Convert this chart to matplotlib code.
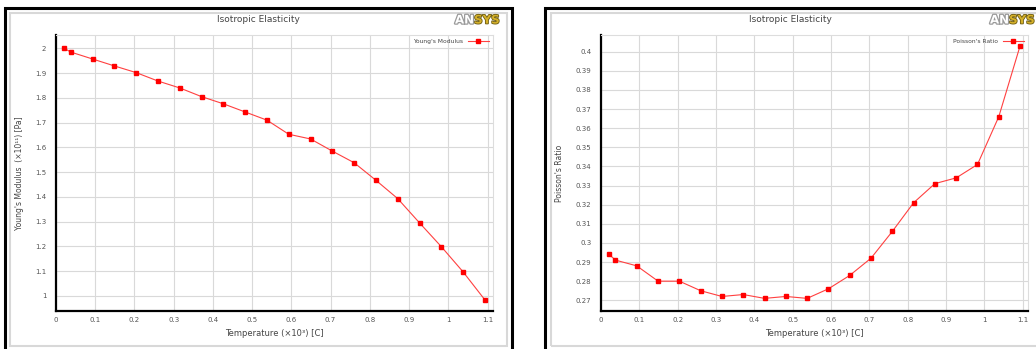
import matplotlib
matplotlib.use("Agg")
import matplotlib.pyplot as plt
import matplotlib.patheffects as pe
from matplotlib.patches import Rectangle

# Datos (temperatura en x10^3 C)
temperatura = [0.0211, 0.0378, 0.0933, 0.1489, 0.2044, 0.2600, 0.3156, 0.3711,
               0.4267, 0.4822, 0.5378, 0.5933, 0.6489, 0.7044, 0.7600, 0.8156,
               0.8711, 0.9267, 0.9822, 1.0378, 1.0933]
young = [2.000, 1.985, 1.957, 1.929, 1.902, 1.868, 1.840, 1.805, 1.776, 1.743,
         1.710, 1.653, 1.634, 1.585, 1.538, 1.467, 1.393, 1.295, 1.199, 1.097, 0.984]
poisson = [0.294, 0.291, 0.288, 0.280, 0.280, 0.275, 0.272, 0.273, 0.271, 0.272,
           0.271, 0.276, 0.283, 0.292, 0.306, 0.321, 0.331, 0.334, 0.341, 0.366, 0.403]

xticks = [0, 0.1, 0.2, 0.3, 0.4, 0.5, 0.6, 0.7, 0.8, 0.9, 1, 1.1]
yticks_young = [1, 1.1, 1.2, 1.3, 1.4, 1.5, 1.6, 1.7, 1.8, 1.9, 2]
yticks_poisson = [0.27, 0.28, 0.29, 0.3, 0.31, 0.32, 0.33, 0.34, 0.35, 0.36,
                  0.37, 0.38, 0.39, 0.4]

W, H = 1036, 349
fig = plt.figure(figsize=(W / 100, H / 100), dpi=100)
fig.patch.set_facecolor('white')


def px(x, y):
    return x / W, 1 - y / H


def marco(x0, x1, gx0, gx1):
    # marco negro exterior y marco gris interior
    a = px(x0, 400)
    b = px(x1, 8)
    fig.patches.append(Rectangle(a, b[0] - a[0], b[1] - a[1], transform=fig.transFigure,
                                 fill=False, edgecolor='black', linewidth=2.2, zorder=0))
    a = px(gx0, 346)
    b = px(gx1, 13)
    fig.patches.append(Rectangle(a, b[0] - a[0], b[1] - a[1], transform=fig.transFigure,
                                 fill=False, edgecolor='#d8d8d8', linewidth=1.5, zorder=0))


def logo(x, y):
    t = fig.text(*px(x, y), "AN", fontsize=8.5, fontweight='bold',
                 color='white', va='center', ha='left', family='DejaVu Sans')
    t.set_path_effects([pe.withStroke(linewidth=1.8, foreground='#9a9a9a')])
    fig.canvas.draw()
    bb = t.get_window_extent()
    t2 = fig.text(bb.x1 / W, 1 - y / H, "SYS", fontsize=8.5, fontweight='bold',
                  color='#d4b02a', va='center', ha='left', family='DejaVu Sans')
    t2.set_path_effects([pe.withStroke(linewidth=1.2, foreground='#6b5a10')])


def panel(x0, x1, y, yticks, ylim, ylabel, label):
    a = px(x0, 311)
    b = px(x1, 35)
    ax = fig.add_axes([a[0], a[1], b[0] - a[0], b[1] - a[1]])
    ax.plot(temperatura, y, color='#ff4040', linewidth=0.8, marker='s', markersize=2.2,
            markerfacecolor='red', markeredgecolor='red', label=label)
    ax.set_xlim(0, 1.114)
    ax.set_ylim(*ylim)
    ax.set_xticks(xticks)
    ax.set_xticklabels([f"{v:g}" for v in xticks])
    ax.set_yticks(yticks)
    ax.set_yticklabels([f"{v:g}" for v in yticks])
    ax.tick_params(length=0, labelsize=5, labelcolor='#555555')
    ax.tick_params(axis='y', pad=7)
    ax.tick_params(axis='x', pad=4)
    ax.grid(True, color='#d9d9d9', linewidth=0.8)
    ax.set_axisbelow(True)
    for s in ['left', 'bottom']:
        ax.spines[s].set_linewidth(1.6)
        ax.spines[s].set_color('black')
    for s in ['top', 'right']:
        ax.spines[s].set_linewidth(0.8)
        ax.spines[s].set_color('#dddddd')
    ax.set_xlabel("Temperature (×10³) [C]", fontsize=6, color='#444444', labelpad=5)
    ax.set_ylabel(ylabel, fontsize=5.5, color='#444444', labelpad=8)
    ax.legend(loc='upper right', frameon=False, fontsize=4.3, markerfirst=False,
              handlelength=3.5, borderaxespad=0.3, labelcolor='#444444')
    return ax


marco(5, 512, 10, 507)
marco(545, 1100, 551, 1100)

fig.text(*px(258, 20), "Isotropic Elasticity", fontsize=6.5, color='#444444',
         ha='center', va='center')
fig.text(*px(790, 20), "Isotropic Elasticity", fontsize=6.5, color='#444444',
         ha='center', va='center')
logo(455, 20)
logo(990, 20)

panel(56, 493, young, yticks_young, (0.939, 2.054),
      "Young's Modulus  (×10¹¹) [Pa]", "Young's Modulus")
panel(601, 1028, poisson, yticks_poisson, (0.2644, 0.4087),
      "Poisson's Ratio", "Poisson's Ratio")

fig.savefig("out.png", dpi=100)
